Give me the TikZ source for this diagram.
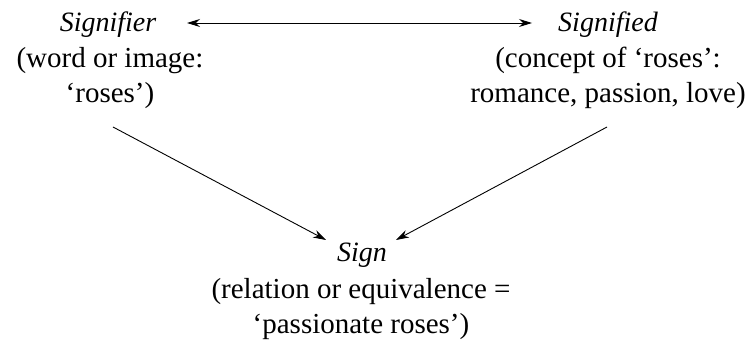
\documentclass[tikz,border=0pt]{standalone}
\usepackage{fontspec}
\setmainfont{Liberation Serif}
\usetikzlibrary{arrows.meta}
\begin{document}
\begin{tikzpicture}[x=1pt,y=1pt,
  title/.style={font=\fontsize{28}{32}\selectfont\itshape, inner sep=0pt, anchor=base},
  desc/.style={font=\fontsize{29}{35}\selectfont, align=center, inner sep=0pt, anchor=base},
  tipstyle/.style={line width=0.9pt},
  conn/.style={tipstyle, -{Stealth[length=13pt,width=8pt]}}]
\useasboundingbox (0,0) rectangle (752,342);
\node[title] (t1) at (108,310) {Signifier};
\node[desc] (d1) at (110,239) {(word or image:\\`roses')};
\node[title] (t2) at (608,310) {Signified};
\node[desc] (d2) at (608,239) {(concept of `roses':\\romance, passion, love)};
\node[title] (t3) at (362,80) {Sign};
\node[desc] (d3) at (361,8) {(relation or equivalence =\\`passionate roses')};
\coordinate (l1) at (187,319);
\coordinate (l2) at (532,319);
\coordinate (a1) at (113,215);
\coordinate (b1) at (326,102);
\coordinate (a2) at (607,215);
\coordinate (b2) at (396,102);
\draw[tipstyle, {Stealth[length=13pt,width=8pt]}-{Stealth[length=13pt,width=8pt]}] (l1) -- (l2);
\draw[conn] (a1) -- (b1);
\draw[conn] (a2) -- (b2);
\end{tikzpicture}
\end{document}
